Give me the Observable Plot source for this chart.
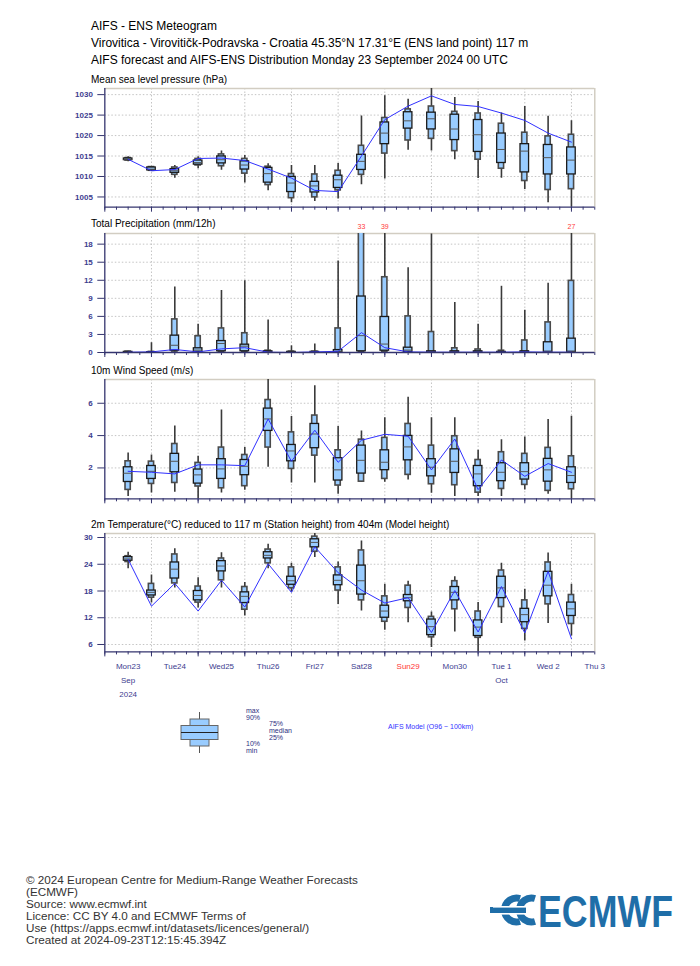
<!DOCTYPE html>
<html><head><meta charset="utf-8">
<script src="https://cdn.jsdelivr.net/npm/d3@7"></script>
<script src="https://cdn.jsdelivr.net/npm/@observablehq/plot@0.6"></script>
<style>
body{margin:0;background:#fff;font-family:"Liberation Sans",Arial,sans-serif;}
#page{position:relative;width:700px;height:966px;overflow:hidden;background:#fff;}
.abs{position:absolute;white-space:nowrap;}
.hdr{left:91px;font-size:12px;line-height:14px;color:#000;}
.pt{left:91px;font-size:10px;line-height:12px;color:#000;z-index:2;}
.foot{left:26px;font-size:11.7px;line-height:12px;color:#333;}
.panel{position:absolute;left:0;}
.panel svg{display:block;}
</style></head><body><div id="page">
<div class="abs hdr" style="top:19px">AIFS - ENS Meteogram</div>
<div class="abs hdr" style="top:36px">Virovitica - Virovitičk-Podravska - Croatia 45.35°N 17.31°E (ENS land point) 117 m</div>
<div class="abs hdr" style="top:53px">AIFS forecast and AIFS-ENS Distribution Monday 23 September 2024 00 UTC</div>
<div class="abs pt" style="top:74px">Mean sea level pressure (hPa)</div>
<div class="abs pt" style="top:218px">Total Precipitation (mm/12h)</div>
<div class="abs pt" style="top:365px">10m Wind Speed (m/s)</div>
<div class="abs pt" style="top:519px">2m Temperature(°C) reduced to 117 m (Station height) from 404m (Model height)</div>
<div id="p1" class="panel"></div><div id="p2" class="panel"></div><div id="p3" class="panel"></div><div id="p4" class="panel"></div>
<div class="abs foot" style="top:874px">© 2024 European Centre for Medium-Range Weather Forecasts<br>(ECMWF)<br>Source: www.ecmwf.int<br>Licence: CC BY 4.0 and ECMWF Terms of<br>Use (https://apps.ecmwf.int/datasets/licences/general/)<br>Created at 2024-09-23T12:15:45.394Z</div>
<svg class="abs" style="left:0;top:0" width="700" height="966" font-family="Liberation Sans, Arial, sans-serif">
  <g>
    <line x1="199.5" y1="712" x2="199.5" y2="753" stroke="#555" stroke-width="1"/>
    <rect x="190" y="719" width="19" height="27" fill="#99ccff" stroke="#666" stroke-width="1"/>
    <rect x="181" y="725.5" width="37" height="14" fill="#99ccff" stroke="#666" stroke-width="1"/>
    <line x1="181" y1="732.5" x2="218" y2="732.5" stroke="#222" stroke-width="1.2"/>
  </g>
  <g font-size="7" fill="#2e2e80">
    <text x="246" y="712.5">max</text>
    <text x="246" y="719.5">90%</text>
    <text x="269" y="725.5">75%</text>
    <text x="269" y="732.5">median</text>
    <text x="269" y="739.5">25%</text>
    <text x="246" y="745.5">10%</text>
    <text x="246" y="752.5">min</text>
  </g>
  <text x="388" y="728.5" font-size="7" fill="#3333ff">AIFS Model (O96 ~ 100km)</text>
  <g fill="none" stroke="#1f6ea8" stroke-width="7">
    <path d="M 520 898.5 A 12 12 0 1 0 520 921.5"/>
    <path d="M 535 898.5 A 12 12 0 1 0 535 921.5"/>
  </g>
  <rect x="490" y="907" width="36" height="6" fill="#1f6ea8"/>
  <rect x="493" y="906" width="40" height="1.6" fill="#fff"/>
  <rect x="493" y="913" width="40" height="1.6" fill="#fff"/>
  <text id="logoText" x="0" y="0" transform="translate(538,927)" font-size="44" font-weight="bold" fill="#1f6ea8" font-family="Liberation Sans Narrow, Liberation Sans, Arial, sans-serif">ECMWF</text>
</svg>
</div>
<script>
// ---- time steps (12-hourly) ----
const steps = ["2024-09-23T12:00Z","2024-09-24T00:00Z","2024-09-24T12:00Z","2024-09-25T00:00Z","2024-09-25T12:00Z",
  "2024-09-26T00:00Z","2024-09-26T12:00Z","2024-09-27T00:00Z","2024-09-27T12:00Z","2024-09-28T00:00Z",
  "2024-09-28T12:00Z","2024-09-29T00:00Z","2024-09-29T12:00Z","2024-09-30T00:00Z","2024-09-30T12:00Z",
  "2024-10-01T00:00Z","2024-10-01T12:00Z","2024-10-02T00:00Z","2024-10-02T12:00Z","2024-10-03T00:00Z"];
const dayLabels = ["Mon23","Tue24","Wed25","Thu26","Fri27","Sat28","Sun29","Mon30","Tue 1","Wed 2","Thu 3"];
const dayLabelDates = ["2024-09-23T12:00Z","2024-09-24T12:00Z","2024-09-25T12:00Z","2024-09-26T12:00Z","2024-09-27T12:00Z",
  "2024-09-28T12:00Z","2024-09-29T12:00Z","2024-09-30T12:00Z","2024-10-01T12:00Z","2024-10-02T12:00Z","2024-10-03T12:00Z"];
const monthLabels = ["Sep","Oct"];
const monthLabelDates = ["2024-09-23T12:00Z","2024-10-01T12:00Z"];
const yearLabels = ["2024"];
const yearLabelDates = ["2024-09-23T12:00Z"];

// ---- Mean sea level pressure (hPa) ----
const mslMin = [1013.6,1011.2,1009.6,1011.9,1011.5,1008.4,1006.5,1003.6,1003.9,1004.5,1008.0,1009.4,1016.4,1016.2,1014.1,1009.5,1009.6,1006.8,1003.6,1001.0];
const msl10  = [1013.9,1011.4,1010.4,1012.7,1012.5,1010.7,1007.9,1004.7,1004.9,1006.6,1010.4,1015.6,1018.8,1019.2,1016.2,1014.1,1011.9,1008.9,1006.7,1006.9];
const msl25  = [1014.0,1011.5,1010.9,1012.9,1013.2,1011.7,1008.5,1006.2,1006.1,1007.2,1011.6,1017.9,1021.7,1021.5,1018.9,1016.0,1013.3,1011.0,1010.5,1010.5];
const mslMed = [1014.2,1011.8,1011.4,1013.4,1014.1,1012.8,1010.7,1008.4,1007.7,1009.2,1013.7,1020.6,1023.6,1024.1,1021.6,1020.2,1016.6,1016.2,1014.6,1014.0];
const msl75  = [1014.4,1012.2,1011.8,1013.9,1014.9,1013.7,1012.1,1009.9,1008.7,1010.2,1015.3,1023.2,1025.7,1025.6,1025.1,1023.8,1020.5,1017.9,1017.7,1017.1];
const msl90  = [1014.5,1012.3,1012.2,1014.3,1015.4,1014.3,1012.4,1010.6,1010.5,1011.4,1017.5,1024.3,1026.4,1027.1,1025.8,1025.4,1022.9,1020.7,1019.8,1020.2];
const mslMax = [1014.8,1012.4,1012.7,1014.8,1016.2,1015.1,1013.1,1012.7,1012.7,1013.2,1024.8,1029.7,1028.9,1031.7,1029.3,1028.3,1025.5,1027.1,1024.7,1023.6];
const mslDet = [1014.2,1011.4,1011.7,1014.4,1014.5,1013.9,1011.8,1009.6,1006.6,1006.3,1015.0,1023.9,1027.2,1029.7,1027.6,1027.1,1025.5,1023.7,1020.6,1018.4];
const mslTicks = [1005,1010,1015,1020,1025,1030];

// ---- Total precipitation (mm/12h) ----
const tpMin = [0,0,0,0,0,0,0,0,0,0,0,0,0,0,0,0,0,0,0,0];
const tp10  = [0,0,0.15,0,0.05,0.1,0,0,0,0,0.1,0.1,0,0,0,0,0,0,0,0];
const tp25  = [0,0,0.3,0.1,0.2,0.2,0.05,0,0,0.05,0.2,0.3,0.1,0.05,0.05,0.05,0,0.05,0.1,0.1];
const tpMed = [0.05,0,1.2,0.4,1.5,1.05,0.1,0.05,0.05,0.2,2.8,1.4,0.4,0.1,0.1,0.1,0.05,0.1,0.2,0.2];
const tp75  = [0.1,0.05,2.8,0.7,1.9,1.3,0.2,0.1,0.1,0.4,9.3,5.9,0.8,0.2,0.2,0.2,0.1,0.2,1.7,2.3];
const tp90  = [0.15,0.1,5.5,2.7,4.0,3.2,0.3,0.15,0.15,4.0,21,12.5,6.0,3.4,0.7,0.5,0.3,2.0,5.0,11.9];
const tpMax = [0.2,1.6,10.9,4.7,10.3,11.9,5.4,1.1,1.4,15.2,33,39,14.1,19.7,8.3,4.7,11.0,7.0,11.5,27];
const tpDet = [0.05,0.1,0.5,0.1,0.6,0.8,0.05,0,0.1,0.2,3.3,0.8,0.1,0.05,0.05,0.05,0.05,0.1,0.05,0.05];
const tpTicks = [0,3,6,9,12,15,18];

// ---- 10m wind speed (m/s) ----
const wsMin = [0.23,0.45,0.5,0.08,0.45,0.62,2.04,1.07,1.07,0.37,1.1,1.11,1.26,0.43,0.23,0.23,0.23,0.64,0.37,0.08];
const ws10  = [0.64,1.01,1.07,0.85,0.74,0.87,3.26,1.94,2.76,0.91,1.15,1.32,1.57,0.99,0.93,0.47,0.7,0.95,0.58,0.68];
const ws25  = [1.13,1.32,1.73,1.03,1.32,1.55,4.29,2.41,3.22,1.22,1.65,1.86,2.47,1.48,1.69,0.87,1.18,1.28,1.15,1.07];
const wsMed = [1.67,1.79,2.41,1.57,1.94,2.1,5.03,3.05,4.1,1.88,2.47,2.35,3.3,2.04,2.41,1.63,1.73,1.77,1.88,1.53];
const ws75  = [2.04,2.12,2.87,1.9,2.54,2.49,5.67,3.42,4.72,2.6,3.38,3.09,3.98,2.54,3.15,2.12,2.29,2.29,2.56,2.04];
const ws90  = [2.41,2.39,3.48,2.31,3.26,2.8,6.2,4.2,5.24,3.09,3.75,3.86,4.72,3.38,3.96,2.49,2.97,2.87,3.24,2.72];
const wsMax = [2.93,2.8,4.6,2.72,5.59,3.26,7.5,5.18,7.09,4.56,4.29,5.11,6.37,5.11,5.11,3.09,3.75,3.92,4.99,5.2];
const wsDet = [1.79,1.73,1.63,2.19,2.19,2.14,5.03,2.41,4.33,2.35,3.71,4.08,3.96,1.88,3.79,0.66,2.49,1.48,2.27,1.73];
const wsTicks = [2,4,6];

// ---- 2m temperature (°C) ----
const t2Min = [23.0,15.3,18.7,14.2,18.7,12.4,23.0,17.7,25.5,15.0,13.5,9.2,10.9,5.3,8.8,4.3,10.7,6.8,10.7,7.9];
const t210  = [24.5,16.5,19.7,15.4,20.4,13.8,24.2,18.6,26.8,18.1,15.9,11.1,14.2,7.6,13.9,7.5,14.4,9.5,15.0,10.6];
const t225  = [24.8,17.0,20.8,15.9,22.4,15.3,25.3,19.4,27.8,19.3,17.2,12.0,15.7,8.1,15.9,7.9,16.4,11.0,16.8,12.4];
const t2Med = [25.2,17.7,22.9,17.0,23.6,16.8,26.0,20.3,28.9,20.4,20.3,13.5,16.5,10.0,17.7,9.9,18.7,12.7,19.3,14.0];
const t275  = [25.6,18.1,24.4,18.0,24.7,17.7,26.7,21.2,29.6,21.5,23.7,14.7,17.1,11.6,18.9,11.4,21.2,14.0,22.3,15.4];
const t290  = [25.8,19.6,26.2,19.0,25.3,18.9,27.3,23.3,30.2,23.3,27.1,16.8,19.2,12.2,20.2,13.4,22.6,15.9,24.4,17.1];
const t2Max = [26.7,21.6,27.5,21.0,26.6,19.9,28.5,24.2,31.0,24.5,29.2,19.5,20.2,13.3,21.2,15.4,24.2,18.4,26.5,19.5];
const t2Det = [25.1,14.6,19.7,13.5,20.4,14.4,24.1,17.7,27.9,22.1,18.2,15.3,16.5,8.7,18.1,8.8,19.0,8.6,22.4,7.3];
const t2Ticks = [6,12,18,24,30];

// ---- build ----
const H = 3600e3;
const xStart = new Date("2024-09-23T00:00Z"), xEnd = new Date("2024-10-03T12:00Z");
const dayTicks = d3.utcDay.range(xStart, new Date(+xEnd + 1));
const minorTicks = d3.utcHour.every(6).range(xStart, new Date(+xEnd + 1));
const NAVY = "#34346e", TICKTXT = "#3d3d8f", FILL = "#99ccff", GRID = "#c4c4c4", FRAME = "#d2cdc2";

function rows(mn, p10, p25, md, p75, p90, mx, det) {
  return steps.map((s, i) => ({t: new Date(s), min: mn[i], p10: p10[i], p25: p25[i], med: md[i], p75: p75[i], p90: p90[i], max: mx[i], det: det[i]}));
}
const off = (d, h) => new Date(+d.t + h * H);

function panel(id, top, data, {domain, ticks, mt, mb, frameH, extra = []}) {
  const svg = Plot.plot({
    width: 700, height: mt + frameH + mb,
    marginLeft: 104.3, marginRight: 105.7, marginTop: mt, marginBottom: mb,
    style: {background: "transparent", fontFamily: "Liberation Sans, Arial, sans-serif", color: NAVY, overflow: "visible"},
    x: {type: "utc", domain: [xStart, xEnd], label: null},
    y: {domain, label: null},
    marks: [
      Plot.ruleY(ticks, {stroke: GRID, strokeDasharray: "1.5,2"}),
      Plot.ruleX(dayTicks.slice(1), {stroke: GRID, strokeDasharray: "1.5,2"}),
      Plot.ruleY([domain[1]], {stroke: FRAME, strokeWidth: 1.5}),
      Plot.ruleX([xEnd], {stroke: FRAME, strokeWidth: 1.5}),
      Plot.ruleX(data, {x: "t", y1: "min", y2: "max", stroke: "#3a3a3a", strokeWidth: 1.6, clip: true}),
      Plot.rect(data, {x1: d => off(d, -1.35), x2: d => off(d, 1.35), y1: "p10", y2: "p90", fill: FILL, stroke: "#4a4a4a", strokeWidth: 1.6, clip: true}),
      Plot.rect(data, {x1: d => off(d, -2.2), x2: d => off(d, 2.2), y1: "p25", y2: "p75", fill: FILL, stroke: "#1a1a1a", strokeWidth: 1.3, clip: true}),
      Plot.ruleY(data, {x1: d => off(d, -2.2), x2: d => off(d, 2.2), y: "med", stroke: "#555", strokeWidth: 1, clip: true}),
      Plot.line(data, {x: "t", y: "det", stroke: "#2f2fff", strokeWidth: 1, clip: true}),
      Plot.ruleX([xStart], {stroke: NAVY, strokeWidth: 1.3}),
      Plot.ruleY([domain[0]], {stroke: NAVY, strokeWidth: 1.3}),
      Plot.axisY(ticks, {tickSize: 7, tickPadding: 5, stroke: NAVY, fill: TICKTXT, fontSize: 8, fontWeight: "bold", tickFormat: d => String(d), label: null}),
      Plot.axisX(dayTicks, {tickSize: 5, tickFormat: () => "", stroke: NAVY, label: null}),
      Plot.axisX(minorTicks, {tickSize: 3, tickFormat: () => "", stroke: NAVY, label: null}),
      ...extra
    ]
  });
  const el = document.getElementById(id);
  el.style.top = top + "px";
  el.appendChild(svg);
}

const mslRows = rows(mslMin, msl10, msl25, mslMed, msl75, msl90, mslMax, mslDet);
const tpRows = rows(tpMin, tp10, tp25, tpMed, tp75, tp90, tpMax, tpDet);
const wsRows = rows(wsMin, ws10, ws25, wsMed, ws75, ws90, wsMax, wsDet);
const t2Rows = rows(t2Min, t210, t225, t2Med, t275, t290, t2Max, t2Det);

panel("p1", 80, mslRows, {domain: [1002.5, 1031.5], ticks: mslTicks, mt: 8, mb: 12, frameH: 118.7});

const tpTop = 19.77;
panel("p2", 217.3, tpRows, {domain: [0, tpTop], ticks: tpTicks, mt: 16, mb: 12, frameH: 119,
  extra: [Plot.text(tpRows.filter(d => d.max > tpTop), {x: "t", text: d => String(Math.round(d.max)), frameAnchor: "top", dy: -9, fill: "#ff3b3b", fontSize: 7})]});

panel("p3", 371, wsRows, {domain: [0.09, 7.47], ticks: wsTicks, mt: 8, mb: 12, frameH: 119.3});

const labelRows = dayLabels.map((l, i) => ({t: new Date(dayLabelDates[i]), l}));
const monthRows = monthLabels.map((l, i) => ({t: new Date(monthLabelDates[i]), l}));
const yearRows = yearLabels.map((l, i) => ({t: new Date(yearLabelDates[i]), l}));
panel("p4", 525.3, t2Rows, {domain: [4.34, 30.9], ticks: t2Ticks, mt: 8, mb: 52, frameH: 118.4,
  extra: [
    Plot.text(labelRows, {x: "t", text: "l", frameAnchor: "bottom", dy: 17.5, fontSize: 8, fill: d => d.l === "Sun29" ? "#ff3333" : TICKTXT}),
    Plot.text(monthRows, {x: "t", text: "l", frameAnchor: "bottom", dy: 31.5, fontSize: 8, fill: TICKTXT}),
    Plot.text(yearRows, {x: "t", text: "l", frameAnchor: "bottom", dy: 45.5, fontSize: 8, fill: TICKTXT})
  ]});

// fit logo wordmark to its width
const lt = document.getElementById("logoText");
const lw = lt.getComputedTextLength();
if (lw > 0) lt.setAttribute("transform", `translate(538,927) scale(${(135 / lw).toFixed(4)},1)`);
</script>
</body></html>
